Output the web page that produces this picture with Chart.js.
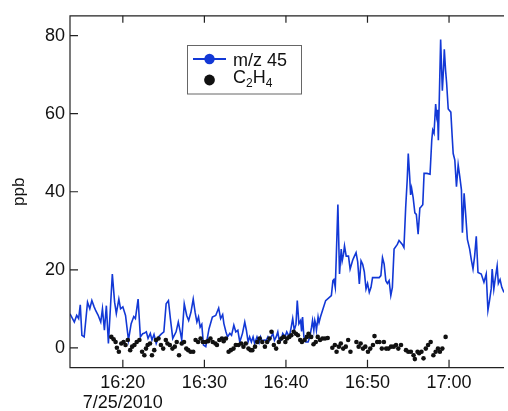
<!DOCTYPE html>
<html>
<head>
<meta charset="utf-8">
<script src="https://cdn.jsdelivr.net/npm/chart.js@4"></script>
<style>
  html, body { margin: 0; padding: 0; background: #fff; }
  #wrap { width: 508px; height: 411px; }
</style>
</head>
<body>
<div id="wrap"><canvas id="ppbChart" width="508" height="411"></canvas></div>
<script>
// time is minutes after 16:00 on 7/25/2010
const xTickValues = [20, 30, 40, 50, 60];
const xTickLabels = ["16:20", "16:30", "16:40", "16:50", "17:00"];
const dateLabel = "7/25/2010";
const yTickValues = [0, 20, 40, 60, 80];

// m/z 45
const mz45Times = [
  13.52,14.05,14.34,14.58,14.78,14.98,15.26,15.67,15.95,16.20,
  16.48,16.68,16.96,17.29,17.50,17.74,17.98,18.23,18.71,18.99,
  19.20,19.51,19.72,20.00,20.33,20.69,21.02,21.34,21.54,21.87,
  22.15,22.43,22.60,22.88,23.09,23.37,23.57,23.82,24.09,24.37,
  24.70,25.03,25.31,25.59,25.83,26.12,26.53,26.80,27.05,27.22,
  27.53,27.83,28.07,28.35,28.63,28.87,29.08,29.28,29.48,29.68,
  29.89,30.17,30.57,30.98,31.39,31.75,31.99,32.24,32.39,32.64,
  32.84,33.12,33.33,33.61,33.85,34.10,34.34,34.67,34.95,35.15,
  35.36,35.55,35.76,35.97,36.16,36.45,36.70,36.89,37.10,37.30,
  37.58,37.79,37.98,38.19,38.40,38.59,38.80,39.00,39.20,39.41,
  39.61,39.89,40.10,40.41,40.62,40.83,41.02,41.23,41.39,41.59,
  41.80,41.92,42.04,42.20,42.44,42.72,42.93,43.14,43.26,43.42,
  43.54,43.66,43.74,43.94,44.06,44.23,44.55,44.87,45.57,45.76,
  45.88,46.05,46.17,46.37,46.57,46.78,46.90,47.06,47.18,47.39,
  47.67,47.87,48.19,48.40,48.60,48.80,49.00,49.21,49.41,49.61,
  49.82,50.01,50.22,50.43,50.62,51.03,51.44,51.64,51.84,52.04,
  52.25,52.44,52.65,52.86,53.05,53.26,53.66,53.87,54.07,54.27,
  54.47,54.68,54.87,55.00,55.17,55.29,55.41,55.60,55.81,55.99,
  56.21,56.42,56.60,56.78,56.94,57.30,57.67,57.88,58.00,58.16,
  58.36,58.48,58.58,58.69,58.97,59.18,59.33,59.42,59.58,59.70,
  59.90,60.22,60.39,60.51,60.71,60.91,61.12,61.31,61.52,61.64,
  61.85,62.04,62.25,62.53,62.74,62.94,63.14,63.34,63.55,63.95,
  64.28,64.56,64.77,64.96,65.17,65.29,65.49,65.65,65.90,66.05,
  66.26,66.47,66.74
];
const mz45Values = [
  8.7,6.6,8.3,7.5,11.0,3.2,2.8,11.7,10.0,12.1,
  10.5,9.5,8.4,6.6,10.0,4.5,10.8,1.1,18.9,11.7,
  8.8,12.5,10.0,10.5,8.3,2.0,6.2,8.0,7.5,12.5,
  2.8,3.6,3.7,4.1,2.4,3.7,2.0,3.4,1.1,2.8,
  3.5,4.1,11.3,12.1,7.5,2.4,4.1,6.6,4.0,2.0,
  11.3,8.3,7.0,9.1,12.5,9.0,6.6,7.9,5.3,6.0,
  0.7,0.3,4.9,7.9,8.3,10.2,7.5,8.5,6.2,4.1,
  2.8,3.7,3.2,5.8,4.1,4.5,1.5,3.7,6.6,4.5,
  1.5,2.8,1.5,2.8,1.1,2.8,1.3,2.8,1.6,2.0,
  1.9,2.8,1.9,2.8,3.7,1.9,2.8,4.1,1.5,2.0,
  3.7,2.8,4.1,2.8,5.0,7.5,4.5,6.0,12.1,6.2,
  7.0,4.2,7.9,2.8,1.5,1.5,2.8,5.3,7.0,4.5,
  7.0,6.0,4.5,7.9,6.5,7.9,10.0,12.1,13.4,17.2,
  17.5,15.5,23.1,36.7,18.9,25.3,22.3,24.0,26.1,23.5,
  23.5,20.2,22.5,23.5,24.4,22.0,16.4,22.3,21.4,19.5,
  15.1,16.5,14.2,15.5,18.0,18.0,18.0,18.5,23.1,21.5,
  17.2,16.5,17.2,13.4,15.5,25.3,26.5,27.5,27.0,26.5,
  25.7,35.8,43.0,49.8,44.0,39.2,40.9,38.5,34.6,34.2,
  29.1,35.8,36.2,36.7,44.7,44.7,44.5,53.2,55.8,55.0,
  62.5,59.5,61.0,53.2,79.0,65.9,71.8,76.5,71.0,68.0,
  61.2,60.4,54.0,49.8,48.1,41.3,46.9,44.0,40.5,29.5,
  39.6,34.2,27.8,25.3,22.5,20.2,23.5,28.6,19.3,18.9,
  16.8,18.9,9.6,12.0,15.1,20.2,15.0,17.5,21.0,16.5,
  17.5,15.5,14.2
];

// C2H4
const c2h4Times = [
  18.59,18.87,19.11,19.27,19.51,19.81,20.09,20.33,20.61,20.90,
  21.14,21.42,21.70,22.03,22.36,22.64,22.84,23.04,23.33,23.57,
  23.85,24.06,24.37,24.67,24.95,25.27,25.47,25.76,26.08,26.37,
  26.61,26.89,27.22,27.50,27.78,28.02,28.31,28.63,28.92,29.23,
  29.53,29.81,30.13,30.45,30.74,31.02,31.35,31.54,31.83,32.15,
  32.36,32.64,32.97,33.24,33.57,33.85,34.18,34.51,34.79,35.07,
  35.40,35.67,35.88,36.21,36.49,36.77,37.10,37.42,37.70,37.98,
  38.23,38.52,38.80,39.13,39.44,39.73,39.93,40.13,40.41,40.66,
  40.95,41.23,41.47,41.75,41.96,42.29,42.56,42.77,43.09,43.38,
  43.66,43.90,44.18,44.47,44.79,45.12,45.69,46.00,46.21,46.49,
  46.73,47.02,47.34,47.63,47.91,48.64,48.92,49.16,49.45,49.73,
  50.06,50.34,50.67,50.86,51.19,51.47,51.76,52.01,52.29,52.57,
  52.89,53.22,53.50,53.78,54.11,54.72,55.00,55.32,55.65,55.81,
  56.14,56.33,56.62,56.87,57.15,57.43,57.75,58.08,58.36,58.64,
  58.88,59.18,59.58
];
const c2h4Values = [
  2.8,2.2,1.5,0,-1.0,1.1,1.5,0.7,2.0,-0.6,
  0.3,0.7,1.5,2.0,-1.0,-1.9,-0.2,0.7,1.1,-1.9,
  -0.6,2.0,2.4,0.7,-0.2,2.0,1.1,0.7,-0.2,0.3,
  1.5,-1.9,1.1,1.5,-0.2,-0.6,-1.0,-1.0,2.0,1.5,
  2.4,1.5,1.5,1.7,2.4,1.5,1.1,0.7,2.0,2.4,
  1.7,2.4,-1.0,-0.6,-0.2,0.7,0.7,1.1,0.3,1.1,
  -0.2,-0.6,-0.6,0.3,1.5,2.4,1.5,0.3,1.5,2.4,
  4.1,0.7,-0.2,1.5,2.4,2.8,1.5,2.4,2.8,3.2,
  4.1,3.6,3.2,2.0,1.5,2.0,2.8,3.6,2.8,0.9,
  1.5,2.8,2.0,2.4,2.4,2.5,0.0,0.7,-1.0,0.3,
  1.1,-0.2,0.3,2.0,-1.0,1.5,0.3,1.1,-0.2,0.3,
  -1.0,-0.2,0.7,3.0,1.5,1.5,-0.2,1.5,-0.2,-0.2,
  0.3,0.3,0.7,-0.2,0.7,-0.6,-1.0,-1.0,-1.9,-2.9,
  -1.0,-1.4,-1.0,-2.7,-0.2,0.7,1.5,-1.9,-1.0,-0.2,
  -1.0,-0.2,2.8
];

const BLUE = "#1238d6";
const DOT = "#111111";
const FONT = "'Liberation Sans', Arial, sans-serif";

function toPoints(times, values) {
    return times.map((t, i) => ({ x: t, y: values[i] }));
}

/* Axis frame with inward ticks */
const framePlugin = {
    id: "frame",
    afterDraw(chart) {
        const { ctx, chartArea: a, scales: { x, y } } = chart;
        ctx.save();
        ctx.strokeStyle = "#222";
        ctx.lineWidth = 1.2;
        ctx.beginPath();
        ctx.moveTo(a.right, a.top);
        ctx.lineTo(a.left, a.top);
        ctx.lineTo(a.left, a.bottom);
        ctx.lineTo(a.right, a.bottom);
        ctx.stroke();

        ctx.beginPath();
        x.ticks.forEach(t => {
            const px = x.getPixelForValue(t.value);
            ctx.moveTo(px, a.bottom);
            ctx.lineTo(px, a.bottom - 8);
            ctx.moveTo(px, a.top);
            ctx.lineTo(px, a.top + 7);
        });
        y.ticks.forEach(t => {
            const py = y.getPixelForValue(t.value);
            ctx.moveTo(a.left, py);
            ctx.lineTo(a.left + 8, py);
        });
        ctx.stroke();
        ctx.restore();
    }
};

/* Legend box with subscripts */
const legendPlugin = {
    id: "boxLegend",
    afterDraw(chart) {
        const ctx = chart.ctx;
        const bx = 187.5, by = 45.5, bw = 114, bh = 48.5;
        ctx.save();
        ctx.fillStyle = "#fff";
        ctx.fillRect(bx, by, bw, bh);
        ctx.strokeStyle = "#666";
        ctx.lineWidth = 1;
        ctx.strokeRect(bx, by, bw, bh);

        // row 1: line + marker
        const ds0 = chart.data.datasets[0];
        ctx.strokeStyle = ds0.borderColor;
        ctx.lineWidth = 2;
        ctx.beginPath();
        ctx.moveTo(193, 59);
        ctx.lineTo(226, 59);
        ctx.stroke();
        ctx.fillStyle = ds0.borderColor;
        ctx.beginPath();
        ctx.arc(209.5, 59, 5.2, 0, Math.PI * 2);
        ctx.fill();

        // row 2: dot
        const ds1 = chart.data.datasets[1];
        ctx.fillStyle = ds1.backgroundColor;
        ctx.beginPath();
        ctx.arc(209.5, 80, 5.4, 0, Math.PI * 2);
        ctx.fill();

        ctx.fillStyle = "#111";
        ctx.textBaseline = "alphabetic";
        ctx.textAlign = "left";
        ctx.font = "18px " + FONT;
        ctx.fillText(ds0.label, 233, 65.5);

        let tx = 233;
        const parts = [["C", false], ["2", true], ["H", false], ["4", true]];
        parts.forEach(([s, sub]) => {
            ctx.font = (sub ? "12px " : "18px ") + FONT;
            ctx.fillText(s, tx, sub ? 87 : 82.5);
            tx += ctx.measureText(s).width;
        });
        ctx.restore();
    }
};

const ctx = document.getElementById("ppbChart").getContext("2d");
const chart = new Chart(ctx, {
    type: "line",
    data: {
        datasets: [
            {
                label: "m/z 45",
                data: toPoints(mz45Times, mz45Values),
                borderColor: BLUE,
                backgroundColor: BLUE,
                borderWidth: 1.6,
                pointRadius: 0,
                tension: 0,
                order: 2
            },
            {
                label: "C2H4",
                data: toPoints(c2h4Times, c2h4Values),
                showLine: false,
                borderColor: DOT,
                backgroundColor: DOT,
                pointRadius: 2.3,
                pointBorderWidth: 0,
                order: 1
            }
        ]
    },
    options: {
        responsive: false,
        animation: false,
        devicePixelRatio: 1,
        layout: { padding: { top: 12.7, left: 0, right: 0, bottom: 0 } },
        plugins: {
            legend: { display: false },
            tooltip: { enabled: false }
        },
        scales: {
            x: {
                type: "linear",
                min: 13.52,
                max: 66.74,
                afterBuildTicks: s => { s.ticks = xTickValues.map(v => ({ value: v })); },
                afterFit: s => { s.height = 43.3; },
                grid: { display: false, drawTicks: false },
                border: { display: false },
                ticks: {
                    autoSkip: false,
                    maxRotation: 0,
                    padding: 6,
                    color: "#111",
                    font: { family: FONT, size: 18, lineHeight: 1.08 },
                    callback: v => {
                        const i = xTickValues.indexOf(v);
                        if (i === 0) return [xTickLabels[0], dateLabel];
                        return i >= 0 ? xTickLabels[i] : "";
                    }
                }
            },
            y: {
                type: "linear",
                min: -5.1,
                max: 85.1,
                afterBuildTicks: s => { s.ticks = yTickValues.map(v => ({ value: v })); },
                afterFit: s => { s.width = 70; },
                grid: { display: false, drawTicks: false },
                border: { display: false },
                ticks: {
                    padding: 5,
                    color: "#111",
                    font: { family: FONT, size: 18 }
                },
                title: {
                    display: true,
                    text: "ppb",
                    color: "#111",
                    padding: { top: 9, bottom: 0 },
                    font: { family: FONT, size: 17 }
                }
            }
        }
    },
    plugins: [framePlugin, legendPlugin]
});
</script>
</body>
</html>
